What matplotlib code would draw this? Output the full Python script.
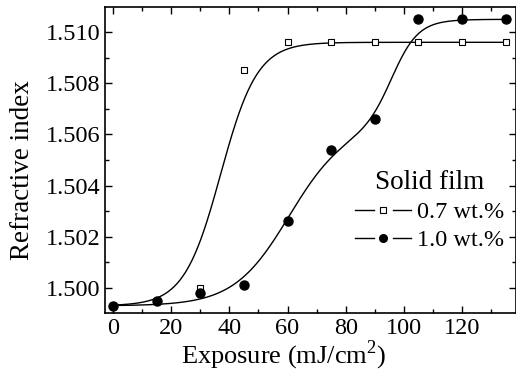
import numpy as np
import matplotlib.pyplot as plt
from matplotlib.lines import Line2D
from matplotlib.legend_handler import HandlerBase
from matplotlib.ticker import MultipleLocator, FormatStrFormatter

plt.rcParams['font.family'] = ['Liberation Serif', 'DejaVu Serif']
plt.rcParams['mathtext.fontset'] = 'custom'
plt.rcParams['mathtext.rm'] = 'Liberation Serif'

# Measured points
exposure = [0, 15, 30, 45, 60, 75, 90, 105, 120, 135]
n_07 = [1.4993, 1.4995, 1.5000, 1.5085, 1.5096, 1.5096, 1.5096, 1.5096, 1.5096, 1.5096]
n_10 = [1.4993, 1.4995, 1.4998, 1.5001, 1.5026, 1.5054, 1.5066, 1.5105, 1.5105, 1.5105]
labels = ['0.7 wt.%', '1.0 wt.%']

# Boltzmann fit parameters
fit_07 = dict(a1=1.4993, a2=1.5096, x0=37.0, dx=6.3)
fit_10 = dict(a1=1.4993, a2=1.5105, p=0.625, x01=60.5, dx1=9.5, x02=96.0, dx2=4.5)


def boltzmann(x, a1, a2, x0, dx):
    return a2 + (a1 - a2) / (1 + np.exp((x - x0) / dx))


def double_boltzmann(x, a1, a2, p, x01, dx1, x02, dx2):
    s1 = 1 / (1 + np.exp((x01 - x) / dx1))
    s2 = 1 / (1 + np.exp((x02 - x) / dx2))
    return a1 + (a2 - a1) * (p * s1 + (1 - p) * s2)


class DashMarkDash(HandlerBase):
    """legend key drawn as  --- marker ---"""
    def create_artists(self, legend, orig, xdescent, ydescent, width, height, fontsize, trans):
        x0 = -xdescent
        x1 = x0 + width
        y = height / 2 - ydescent
        d = 0.33 * width
        left = Line2D([x0, x0 + d], [y, y], color='black', lw=1.0)
        right = Line2D([x1 - d, x1], [y, y], color='black', lw=1.0)
        mark = Line2D([(x0 + x1) / 2], [y], ls='none', marker=orig.get_marker(),
                      ms=orig.get_markersize(), mfc=orig.get_markerfacecolor(),
                      mec=orig.get_markeredgecolor(), mew=orig.get_markeredgewidth())
        for a in (left, right, mark):
            a.set_transform(trans)
        return [left, right, mark]


xs = np.linspace(0, 135, 400)

fig = plt.figure(figsize=(5.16, 3.79), dpi=100)
ax = fig.add_axes([105 / 516, 1 - 313 / 379, 411 / 516, 306 / 379])

ax.plot(xs, boltzmann(xs, **fit_07), color='black', lw=1.0)
ax.plot(xs, double_boltzmann(xs, **fit_10), color='black', lw=1.0)

ax.plot(exposure, n_07, ls='none', marker='s', ms=5, mfc='white', mec='black', mew=0.8)
ax.plot(exposure, n_10, ls='none', marker='o', ms=6.5, mfc='black', mec='black')

m07 = Line2D([], [], ls='none', marker='s', ms=4.5, mfc='white', mec='black', mew=0.8)
m10 = Line2D([], [], ls='none', marker='o', ms=5.5, mfc='black', mec='black')
leg = ax.legend([m07, m10], labels, handler_map={Line2D: DashMarkDash()},
                title='Solid film', loc='center right', bbox_to_anchor=(1.007, 0.334),
                frameon=False, fontsize=17.5, title_fontsize=19.5, handlelength=2.3,
                handletextpad=0.25, labelspacing=0.25, borderpad=0.1)

ax.set_xlim(-2.8, 138.6)
ax.set_ylim(1.49902, 1.51098)
ax.xaxis.set_major_locator(MultipleLocator(20))
ax.xaxis.set_minor_locator(MultipleLocator(10))
ax.yaxis.set_major_locator(MultipleLocator(0.002))
ax.yaxis.set_minor_locator(MultipleLocator(0.001))
ax.yaxis.set_major_formatter(FormatStrFormatter('%.3f'))
ax.tick_params(which='both', direction='in', top=True, right=True, labelsize=17.5)
ax.tick_params(which='major', length=5, width=1)
ax.tick_params(which='minor', length=3, width=1)
for s in ax.spines.values():
    s.set_linewidth(1.2)

ax.set_xlabel('Exposure (mJ/cm$^2$)', fontsize=19)
ax.set_ylabel('Refractive index', fontsize=19.5)
ax.xaxis.set_label_coords(0.434, -0.085)
ax.yaxis.set_label_coords(-0.171, 0.467)

fig.savefig('out.png', dpi=100)
